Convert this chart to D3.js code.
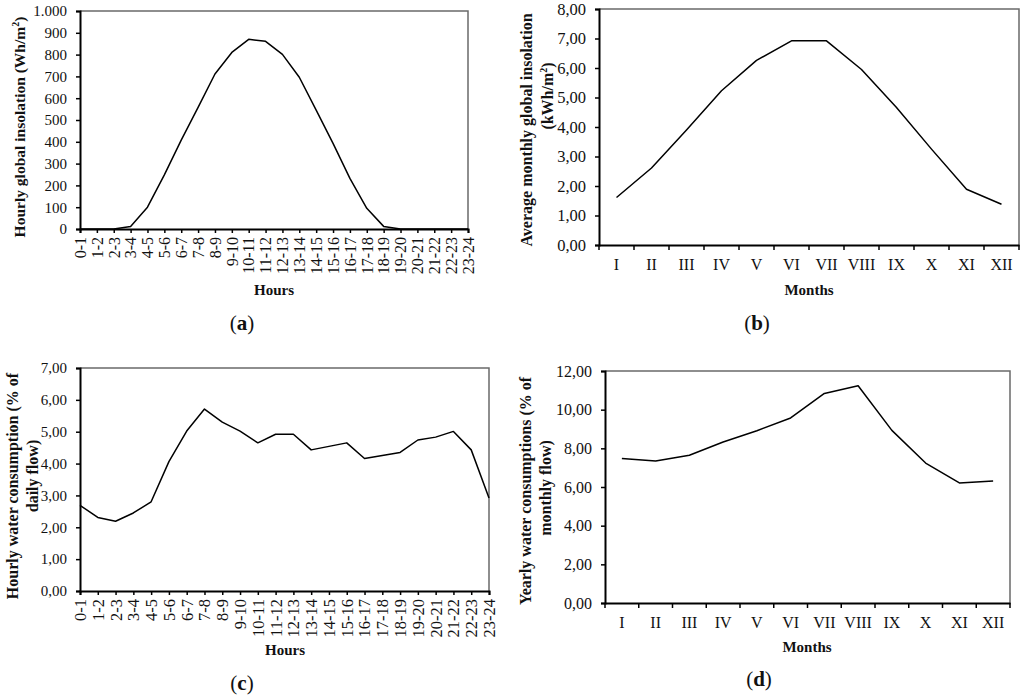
<!DOCTYPE html>
<html>
<head>
<meta charset="utf-8">
<script src="https://cdn.jsdelivr.net/npm/d3@7"></script>
<style>
  body { margin: 0; background: #fff; }
  svg { font-family: "Liberation Serif", "Times New Roman", serif; }
</style>
</head>
<body>
<svg id="chart" width="1024" height="695"></svg>
<script>
// categories
var hours = ['0-1','1-2','2-3','3-4','4-5','5-6','6-7','7-8','8-9','9-10','10-11','11-12',
   '12-13','13-14','14-15','15-16','16-17','17-18','18-19','19-20','20-21','21-22','22-23','23-24'];
var months = ['I','II','III','IV','V','VI','VII','VIII','IX','X','XI','XII'];

// series
var hourlyInsolation = [0,0,0,12,100,248,408,558,711,810,870,861,801,696,545,393,232,95,12,0,0,0,0,0];
var monthlyInsolation = [1.61,2.61,3.9,5.23,6.26,6.92,6.92,5.95,4.66,3.25,1.89,1.38];
var hourlyWater = [2.69,2.31,2.19,2.45,2.80,4.06,5.02,5.71,5.30,5.02,4.65,4.92,
   4.92,4.43,4.54,4.65,4.16,4.25,4.35,4.74,4.83,5.01,4.43,2.92];
var monthlyWater = [7.47,7.34,7.64,8.33,8.91,9.57,10.84,11.24,8.93,7.24,6.21,6.31];

// tick values
var ticksA = d3.range(0, 1001, 100);
var ticksB = d3.range(0, 9, 1);
var ticksC = d3.range(0, 8, 1);
var ticksD = d3.range(0, 13, 2);

var loc = d3.formatLocale({decimal: ',', thousands: '.', grouping: [3], currency: ['', '']});
var fmtInt = loc.format(',.0f'),
   fmtDec = loc.format('.2f');

var svg = d3.select('#chart');
var SERIF = '"Liberation Serif", "Times New Roman", serif';

function panel(o){
   var g = svg.append('g');
   var x;
   if (o.band) {
      x = d3.scaleBand().domain(o.cats).range([o.left, o.right]);
   } else {
      x = d3.scalePoint().domain(o.cats).range([o.left, o.right]);
   }
   var y = d3.scaleLinear().domain([0, o.ymax]).range([o.bottom, o.top]);
   var xc = function(d){ return o.band ? x(d) + x.bandwidth() / 2 : x(d); };

   // frame top/right
   g.append('path')
      .attr('d', 'M' + o.left + ',' + o.top + 'H' + o.right + 'V' + o.bottom)
      .attr('fill', 'none')
      .attr('stroke', '#6a6a6a')
      .attr('stroke-width', 1.5);

   // y axis
   var ya = g.append('g')
      .attr('transform', 'translate(' + o.left + ',0)')
      .call(d3.axisLeft(y).tickValues(o.ticks).tickFormat(o.fmt).tickSize(4).tickPadding(o.pad))
      .attr('font-family', SERIF).attr('font-size', o.yfont);
   ya.selectAll('text').attr('fill', '#111');

   // x axis
   var xa;
   if (o.band) {
      xa = g.append('g')
         .attr('transform', 'translate(0,' + o.bottom + ')')
         .call(d3.axisBottom(x).tickSize(0).tickPadding(o.xpad));
      // boundary ticks
      var edges = o.cats.map(function(d){ return x(d); }).concat([o.right]);
      xa.selectAll('line.edge').data(edges).enter().append('line')
         .attr('class', 'edge')
         .attr('x1', function(d){ return d; }).attr('x2', function(d){ return d; })
         .attr('y1', 0).attr('y2', 5)
         .attr('stroke', '#000').attr('stroke-width', 1.5);
      xa.selectAll('.tick text').attr('fill', '#111');
   } else {
      xa = g.append('g')
         .attr('transform', 'translate(0,' + o.bottom + ')')
         .call(d3.axisBottom(x).tickSize(4).tickPadding(0));
      xa.selectAll('.tick text')
         .attr('fill', '#111')
         .attr('text-anchor', 'end')
         .attr('transform', 'translate(0,' + o.xpad + ') rotate(-90)')
         .attr('x', 0).attr('y', 0).attr('dy', '0.33em');
   }
   xa.attr('font-family', SERIF).attr('font-size', o.xfont);
   g.selectAll('.domain').attr('stroke', '#000').attr('stroke-width', 2);
   g.selectAll('.tick line').attr('stroke', '#000').attr('stroke-width', 1.5);

   // line
   var line = d3.line()
      .x(function(d, i){ return xc(o.cats[i]); })
      .y(function(d){ return y(d); });
   g.append('path')
      .datum(o.values)
      .attr('d', line)
      .attr('fill', 'none')
      .attr('stroke', '#000')
      .attr('stroke-width', 1.5)
      .attr('stroke-linejoin', 'round');

   // y title
   o.ytitle.forEach(function(t){
      g.append('text')
         .attr('transform', 'translate(' + t.x + ',' + t.y + ') rotate(-90)')
         .attr('text-anchor', 'middle')
         .attr('dy', '0.35em')
         .style('font-size', (t.size || 16) + 'px')
         .style('font-weight', 'bold')
         .attr('fill', '#111')
         .html(t.text);
   });

   // x title
   g.append('text')
      .attr('x', o.xtitle.x).attr('y', o.xtitle.y)
      .attr('text-anchor', 'middle')
      .style('font-size', '15px')
      .style('font-weight', 'bold')
      .attr('fill', '#111')
      .text(o.xtitle.text);

   // panel letter
   var lab = g.append('text')
      .attr('x', o.letter.x).attr('y', o.letter.y)
      .attr('text-anchor', 'middle')
      .style('font-size', '21px')
      .attr('fill', '#111');
   lab.append('tspan').text('(');
   lab.append('tspan').style('font-weight', 'bold').text(o.letter.text);
   lab.append('tspan').text(')');
}

panel({
   cats: hours, values: hourlyInsolation, band: false,
   left: 80, right: 468, top: 11, bottom: 229,
   ymax: 1000, ticks: ticksA, fmt: fmtInt, pad: 9, xpad: 8, yfont: 15, xfont: 16,
   ytitle: [{x: 20, y: 127, size: 15.5, text: 'Hourly global insolation (Wh/m<tspan dy="-6" font-size="10px">2</tspan><tspan dy="6">)</tspan>'}],
   xtitle: {x: 274, y: 295, text: 'Hours'},
   letter: {x: 242, y: 330, text: 'a'}
});

panel({
   cats: months, values: monthlyInsolation, band: true,
   left: 599, right: 1019, top: 9, bottom: 245,
   ymax: 8, ticks: ticksB, fmt: fmtDec, pad: 9, xpad: 14, yfont: 16.5, xfont: 16,
   ytitle: [
      {x: 526, y: 130, text: 'Average monthly global insolation'},
      {x: 547, y: 96, text: '(kWh/m<tspan dy="-6" font-size="10px">2</tspan><tspan dy="6">)</tspan>'}
   ],
   xtitle: {x: 809, y: 295, text: 'Months'},
   letter: {x: 757, y: 330, text: 'b'}
});

panel({
   cats: hours, values: hourlyWater, band: false,
   left: 80, right: 489, top: 368, bottom: 591,
   ymax: 7, ticks: ticksC, fmt: fmtDec, pad: 9, xpad: 8, yfont: 15, xfont: 16.5,
   ytitle: [
      {x: 12, y: 486, text: 'Hourly water consumption (% of'},
      {x: 32, y: 476, text: 'daily flow)'}
   ],
   xtitle: {x: 285, y: 655, text: 'Hours'},
   letter: {x: 242, y: 690, text: 'c'}
});

panel({
   cats: months, values: monthlyWater, band: true,
   left: 605, right: 1010, top: 371, bottom: 603,
   ymax: 12, ticks: ticksD, fmt: fmtDec, pad: 9, xpad: 14, yfont: 16, xfont: 16,
   ytitle: [
      {x: 525, y: 491, text: 'Yearly water consumptions (% of'},
      {x: 545, y: 488, text: 'monthly flow)'}
   ],
   xtitle: {x: 807, y: 652, text: 'Months'},
   letter: {x: 759, y: 686, text: 'd'}
});
</script>
</body>
</html>
